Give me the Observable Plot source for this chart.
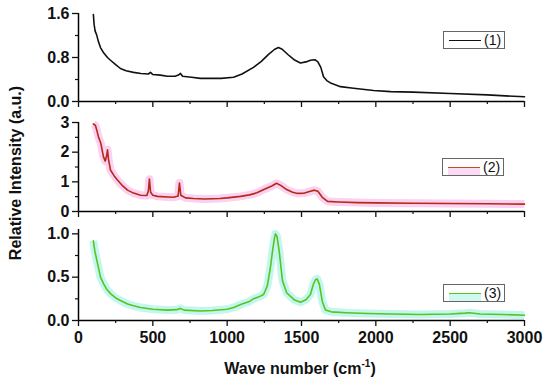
<!DOCTYPE html>
<html><head><meta charset="utf-8">
<script src="https://cdn.jsdelivr.net/npm/d3@7"></script>
<script src="https://cdn.jsdelivr.net/npm/@observablehq/plot@0.6"></script>
<style>
body{margin:0;background:#fff;}
#wrap{position:relative;width:550px;height:386px;overflow:hidden;font-family:"Liberation Sans",Arial,sans-serif;background:#fff;}
#wrap svg{position:absolute;left:0;top:0;}
.leg{position:absolute;box-sizing:border-box;border:1px solid #666;background:#fff;width:62px;height:18px;font-size:14px;color:#111;}
.leg .ln{position:absolute;left:5px;top:8px;width:32px;height:0;border-top:1.5px solid #000;}
.leg .fill{position:absolute;left:5px;top:9px;width:32px;height:7px;}
.leg .tx{position:absolute;left:40px;top:0px;line-height:16px;}
.ytitle{position:absolute;left:16px;top:173px;transform:translate(-50%,-50%) rotate(-90deg);white-space:nowrap;font-weight:bold;font-size:16px;color:#111;}
.xtitle{position:absolute;left:300px;top:368px;transform:translate(-50%,-50%);white-space:nowrap;font-weight:bold;font-size:16px;color:#111;}
.xtitle sup{font-size:10px;}
</style></head>
<body>
<div id="wrap"></div>
<script>
// Series (1)
const wave1 = [100,105,112,121,135,148,170,195,215,250,282,320,370,420,470,484,500,550,598,650,672,686,700,760,820,900,960,1043,1100,1177,1230,1280,1320,1345,1370,1410,1450,1493,1530,1560,1590,1610,1630,1648,1670,1700,1762,1850,1985,2100,2250,2500,2750,3000];
const int1  = [1.58,1.4,1.28,1.22,1.08,0.98,0.88,0.8,0.75,0.67,0.6,0.56,0.53,0.51,0.5,0.53,0.49,0.48,0.46,0.46,0.48,0.51,0.46,0.44,0.42,0.42,0.42,0.44,0.5,0.62,0.73,0.86,0.95,0.98,0.95,0.85,0.76,0.7,0.72,0.75,0.76,0.72,0.62,0.45,0.38,0.33,0.27,0.24,0.2,0.18,0.17,0.145,0.12,0.085];
// Series (2)
const wave2 = [100,114,125,135,150,168,180,190,195,202,215,240,262,290,330,370,417,460,470,477,485,500,531,600,639,670,679,688,720,773,850,950,1000,1090,1150,1200,1250,1300,1332,1360,1400,1440,1473,1520,1560,1587,1610,1640,1675,1750,1877,2000,2250,2500,2750,3000];
const int2  = [2.95,2.9,2.7,2.5,2.3,1.84,1.7,1.9,2.08,1.75,1.4,1.2,1.06,0.9,0.72,0.62,0.55,0.54,0.7,1.09,0.65,0.55,0.51,0.49,0.48,0.52,0.96,0.55,0.46,0.44,0.42,0.44,0.46,0.51,0.56,0.63,0.75,0.86,0.95,0.88,0.74,0.65,0.61,0.62,0.68,0.72,0.68,0.48,0.34,0.32,0.3,0.29,0.28,0.27,0.26,0.25];
// Series (3)
const wave3 = [100,110,128,148,170,190,215,250,282,330,370,417,500,598,660,686,710,820,900,1000,1043,1100,1150,1177,1210,1245,1270,1290,1305,1318,1325,1335,1350,1372,1400,1450,1493,1530,1560,1580,1594,1605,1620,1640,1661,1700,1800,1944,2100,2300,2500,2600,2630,2700,2850,3000];
const int3  = [0.92,0.8,0.66,0.5,0.42,0.36,0.31,0.26,0.23,0.19,0.17,0.15,0.13,0.12,0.125,0.14,0.12,0.11,0.115,0.13,0.15,0.19,0.22,0.25,0.27,0.3,0.4,0.6,0.8,0.95,1.0,0.97,0.8,0.46,0.32,0.24,0.21,0.24,0.3,0.42,0.47,0.48,0.42,0.22,0.12,0.1,0.09,0.08,0.075,0.07,0.075,0.085,0.09,0.075,0.07,0.06];

const xTicks = [0,500,1000,1500,2000,2500,3000];
const xMinor = [250,750,1250,1750,2250,2750];
const yTicks1 = [0,0.8,1.6], yMinor1 = [0.4,1.2];
const yTicks2 = [0,1,2,3], yMinor2 = [0.5,1.5,2.5];
const yTicks3 = [0,0.5,1.0], yMinor3 = [0.25,0.75];
const labels = ["(1)","(2)","(3)"];

const rows = (w, v) => w.map((x, i) => ({x, y: v[i]}));

function panel({data, color, band, yDomain, yTicks, yMinor, fmt, top, bottom, showX}) {
  const marks = [];
  if (band) marks.push(Plot.line(data, {x: "x", y: "y", stroke: band, strokeWidth: 8, strokeLinejoin: "round", strokeLinecap: "butt"}));
  marks.push(Plot.line(data, {x: "x", y: "y", stroke: color, strokeWidth: 1.6}));
  marks.push(Plot.ruleX([0], {stroke: "#000", strokeWidth: 1.5}));
  marks.push(Plot.ruleY([yDomain[0]], {stroke: "#000", strokeWidth: 1.5}));
  marks.push(Plot.axisY({ticks: yTicks, tickFormat: fmt, tickSize: 6, tickPadding: 3, fontSize: 16, fontWeight: "bold", label: null, strokeWidth: 1.3}));
  marks.push(Plot.axisY({ticks: yMinor, tickFormat: () => "", tickSize: 3, label: null, strokeWidth: 1.2}));
  marks.push(Plot.axisX({ticks: xTicks, tickFormat: showX ? (d => String(d)) : (() => ""), tickSize: 6, tickPadding: 5, fontSize: 16, fontWeight: "bold", label: null, strokeWidth: 1.3}));
  marks.push(Plot.axisX({ticks: xMinor, tickFormat: () => "", tickSize: 3, label: null, strokeWidth: 1.2}));
  return Plot.plot({
    width: 550, height: 386,
    marginLeft: 78, marginRight: 26, marginTop: top, marginBottom: 386 - bottom,
    x: {domain: [0, 3000]},
    y: {domain: yDomain},
    style: {background: "transparent", fontFamily: "Liberation Sans, Arial, sans-serif", fontWeight: "bold", color: "#111"},
    marks
  });
}

const wrap = document.getElementById("wrap");
wrap.append(panel({data: rows(wave1, int1), color: "#111", band: null, yDomain: [0, 1.6], yTicks: yTicks1, yMinor: yMinor1, fmt: d3.format(".1f"), top: 13, bottom: 101, showX: false}));
wrap.append(panel({data: rows(wave2, int2), color: "#b42a16", band: "#fbd0f0", yDomain: [0, 3], yTicks: yTicks2, yMinor: yMinor2, fmt: d3.format("d"), top: 122, bottom: 211, showX: false}));
wrap.append(panel({data: rows(wave3, int3), color: "#5cc21c", band: "#c2f7f0", yDomain: [0, 1.05], yTicks: yTicks3, yMinor: yMinor3, fmt: d3.format(".1f"), top: 229, bottom: 320, showX: true}));

function legend(label, left, top, color, fill) {
  const d = document.createElement("div");
  d.className = "leg";
  d.style.left = left + "px"; d.style.top = top + "px";
  if (fill) { const f = document.createElement("div"); f.className = "fill"; f.style.background = fill; d.append(f); }
  const l = document.createElement("div"); l.className = "ln"; l.style.borderTopColor = color; d.append(l);
  const t = document.createElement("div"); t.className = "tx"; t.textContent = label; d.append(t);
  wrap.append(d);
}
legend(labels[0], 443, 31, "#111", null);
legend(labels[1], 442, 158, "#b5542a", "#fbdcf4");
legend(labels[2], 443, 284, "#5cc21c", "#d0f8f2");

const yt = document.createElement("div"); yt.className = "ytitle"; yt.textContent = "Relative Intensity (a.u.)"; wrap.append(yt);
const xt = document.createElement("div"); xt.className = "xtitle"; xt.innerHTML = "Wave number (cm<sup>-1</sup>)"; wrap.append(xt);
</script>
</body></html>
